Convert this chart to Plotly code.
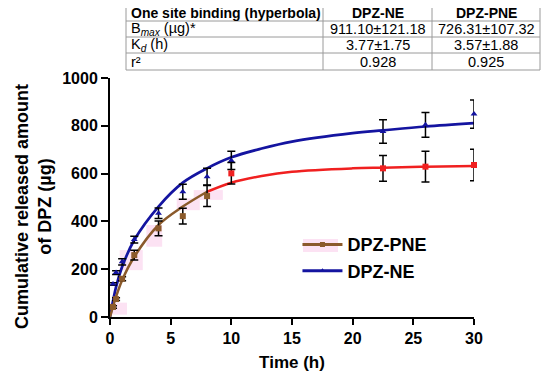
import plotly.graph_objects as go

# ---- data ----
time_h = [0.25, 0.5, 1, 2, 4, 6, 8, 10, 22.5, 26, 30]
ne_mean = [138, 186, 231, 324, 434, 524, 587, 655, 776, 804, 849]
ne_err = [5, 8, 13, 14, 22, 31, 35, 38, 49, 52, 59]
pne_mean = [42, 75, 160, 259, 371, 422, 506, 601, 622, 629, 636]
pne_err = [5, 6, 8, 20, 31, 33, 44, 45, 54, 64, 66]

# fitted curves
fit_t = [0, 0.5, 1, 2, 4, 6, 8, 10, 12.5, 15, 20, 22.5, 26, 30]
ne_fit = [0, 126, 210, 322, 462, 562, 622, 668, 705, 734, 769, 781, 797, 811]
pne_fit = [0, 85, 154, 252, 385, 462, 524, 562, 590, 608, 622, 625, 629, 632]

x_ticks = [0, 5, 10, 15, 20, 25, 30]
y_ticks = [0, 200, 400, 600, 800, 1000]

table_header = ["One site binding (hyperbola)", "DPZ-NE", "DPZ-PNE"]
table_rows = [
    ["B<sub><i>max</i></sub> (µg)*", "911.10±121.18", "726.31±107.32"],
    ["K<sub><i>d</i></sub> (h)", "3.77±1.75", "3.57±1.88"],
    ["r²", "0.928", "0.925"],
]

BLUE = "#1414a0"
BROWN = "#8b5a2b"
RED = "#f02020"
PINK = "#fce2f3"
FONT = "Arial, Liberation Sans, sans-serif"

fig = go.Figure()

# faint pink highlight patches seen in the reference
pink_boxes = [(-0.8, 1.4, 10, 60), (0.8, 2.7, 196, 280), (3.0, 4.3, 294, 385),
              (5.5, 7.4, 447, 496), (6.9, 9.3, 490, 531)]
for x0, x1, y0, y1 in pink_boxes:
    fig.add_shape(type="rect", xref="x", yref="y", x0=x0, x1=x1, y0=y0, y1=y1,
                  fillcolor=PINK, line=dict(width=0), layer="below")

# fit curves
split = fit_t.index(8)
fig.add_trace(go.Scatter(x=fit_t, y=ne_fit, mode="lines", line=dict(color=BLUE, width=2.7, shape="spline"),
                         showlegend=False, hoverinfo="skip"))
fig.add_trace(go.Scatter(x=fit_t[split:], y=pne_fit[split:], mode="lines",
                         line=dict(color=RED, width=2.5, shape="spline"), showlegend=False))
fig.add_trace(go.Scatter(x=fit_t[:split + 1], y=pne_fit[:split + 1], mode="lines",
                         line=dict(color=BROWN, width=2.5, shape="spline"), showlegend=False))

# data points with error bars
fig.add_trace(go.Scatter(x=time_h, y=ne_mean, mode="markers",
                         marker=dict(symbol="triangle-up", size=6, color=BLUE),
                         error_y=dict(type="data", array=ne_err, color="black", thickness=1.5, width=4),
                         showlegend=False, cliponaxis=False))
pne_colors = [BROWN if t <= 8 else RED for t in time_h]
fig.add_trace(go.Scatter(x=time_h, y=pne_mean, mode="markers",
                         marker=dict(symbol="square", size=6, color=pne_colors),
                         error_y=dict(type="data", array=pne_err, color="black", thickness=1.5, width=4),
                         showlegend=False, cliponaxis=False))

# legend entries
fig.add_trace(go.Scatter(x=[None], y=[None], mode="lines+markers", name="DPZ-PNE",
                         line=dict(color=BROWN, width=3), marker=dict(symbol="square", size=5, color=BROWN)))
fig.add_trace(go.Scatter(x=[None], y=[None], mode="lines+markers", name="DPZ-NE",
                         line=dict(color=BLUE, width=3), marker=dict(symbol="triangle-up", size=5, color=BLUE)))

# the page body has an 8px margin, so the figure is 8px smaller and offset
fig.update_layout(
    width=542, height=372,
    margin=dict(l=102, r=76, t=70, b=63),
    paper_bgcolor="white", plot_bgcolor="white",
    font=dict(family=FONT, color="black"),
    legend=dict(x=0.515, y=0.38, xanchor="left", yanchor="top", bgcolor="rgba(0,0,0,0)",
                font=dict(size=18, family=FONT, weight="bold"), tracegroupgap=0, itemwidth=40),
    xaxis=dict(range=[0, 30], tickvals=x_ticks, showline=True, linecolor="black", linewidth=2,
               ticks="outside", ticklen=6, tickwidth=2, tickcolor="black", showgrid=False, zeroline=False,
               tickfont=dict(size=16, family=FONT, weight="bold"),
               title=dict(text="Time (h)", font=dict(size=17, family=FONT, weight="bold"), standoff=10)),
    yaxis=dict(range=[0, 1000], tickvals=y_ticks, showline=True, linecolor="black", linewidth=2,
               ticks="outside", ticklen=7, tickwidth=2, tickcolor="black", showgrid=False, zeroline=False,
               tickfont=dict(size=16, family=FONT, weight="bold")),
)


def px(x):
    return (x - 110) / 364


def py(y):
    return (317 - y) / 239


# legend pink patch
fig.add_shape(type="rect", xref="paper", yref="paper", x0=px(303), x1=px(338), y0=py(252), y1=py(239),
              fillcolor=PINK, line=dict(width=0), layer="below")

# y title as annotation
fig.add_annotation(text="Cumulative released amount<br>of DPZ (µg)", textangle=-90,
                   xref="paper", yref="paper", x=px(33), y=py(207), xanchor="center", yanchor="middle",
                   showarrow=False, font=dict(size=18, family=FONT, weight="bold"), align="center")

# table drawn with shapes + annotations
col_edges = [126, 323, 432, 540]
row_edges = [4, 21, 37, 53, 70]
line = dict(color="#9a9a9a", width=1)
for ye in row_edges:
    fig.add_shape(type="line", xref="paper", yref="paper", x0=px(col_edges[0]), x1=px(col_edges[-1]),
                  y0=py(ye), y1=py(ye), line=line)
for xe in col_edges:
    fig.add_shape(type="line", xref="paper", yref="paper", x0=px(xe), x1=px(xe),
                  y0=py(row_edges[0]), y1=py(row_edges[-1]), line=line)

all_rows = [table_header] + table_rows
for r, row in enumerate(all_rows):
    yc = (row_edges[r] + row_edges[r + 1]) / 2
    for c, txt in enumerate(row):
        fnt = dict(size=14 if r == 0 else 14.5, family=FONT, weight="bold" if r == 0 else "normal")
        if c == 0:
            fig.add_annotation(text=txt, xref="paper", yref="paper", x=px(col_edges[0] + 3), y=py(yc),
                               xanchor="left", yanchor="middle", showarrow=False, font=fnt)
        else:
            fig.add_annotation(text=txt, xref="paper", yref="paper",
                               x=px((col_edges[c] + col_edges[c + 1]) / 2), y=py(yc),
                               xanchor="center", yanchor="middle", showarrow=False, font=fnt)

fig.write_html("out.html")
